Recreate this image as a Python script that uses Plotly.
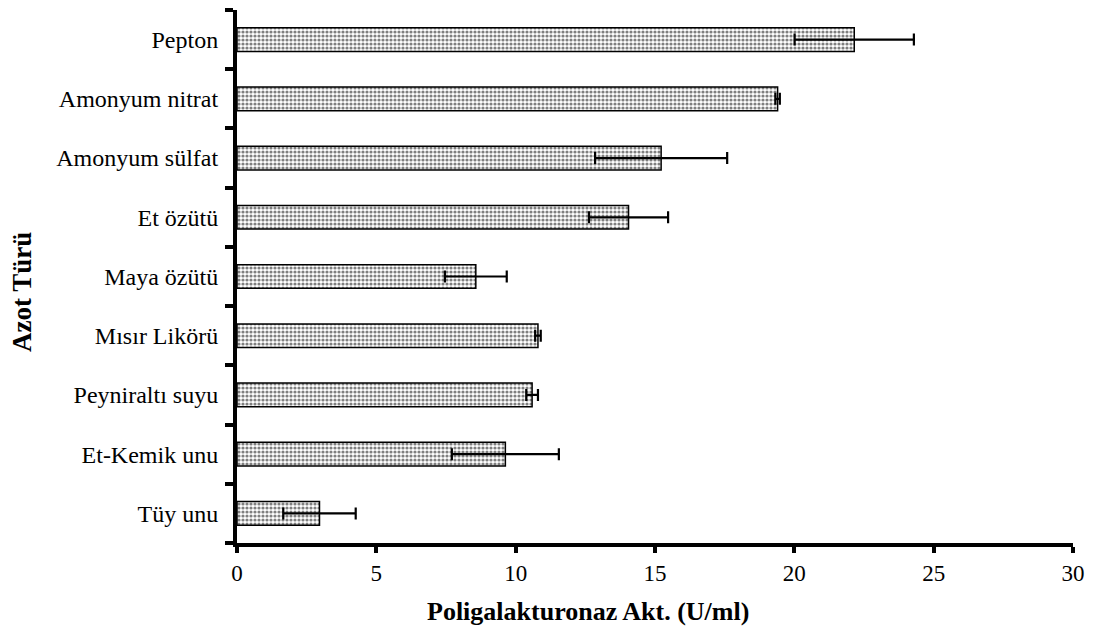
import plotly.graph_objects as go

# Nitrogen sources (top to bottom) and polygalacturonase activity (U/ml)
categories = ["Pepton", "Amonyum nitrat", "Amonyum sülfat", "Et özütü", "Maya özütü",
              "Mısır Likörü", "Peyniraltı suyu", "Et-Kemik unu", "Tüy unu"]
activity = [22.15, 19.40, 15.22, 14.05, 8.57, 10.80, 10.59, 9.63, 2.96]
std_err = [2.14, 0.08, 2.37, 1.42, 1.11, 0.10, 0.21, 1.92, 1.30]
x_ticks = [0, 5, 10, 15, 20, 25, 30]

FONT = "Liberation Serif, Times New Roman, serif"

fig = go.Figure()
fig.add_trace(go.Bar(
    y=categories,
    x=activity,
    orientation="h",
    width=0.4,
    marker=dict(
        color="white",
        line=dict(color="black", width=1.5),
        pattern=dict(shape=".", size=4, solidity=0.5, fgcolor="black", bgcolor="white"),
    ),
    error_x=dict(type="data", array=std_err, visible=True, color="black", thickness=2.2, width=6),
))

fig.update_layout(
    width=1097,
    height=639,
    margin=dict(l=237, r=24, t=10, b=96),
    plot_bgcolor="white",
    paper_bgcolor="white",
    showlegend=False,
    font=dict(family=FONT, size=24, color="black"),
    xaxis=dict(
        range=[0, 30],
        tickvals=x_ticks,
        ticktext=[str(v) for v in x_ticks],
        showgrid=False,
        zeroline=False,
        showline=True,
        linecolor="black",
        linewidth=4,
        ticks="outside",
        ticklen=6,
        tickwidth=4,
        tickcolor="black",
        tickfont=dict(family=FONT, size=23, color="black"),
    ),
    yaxis=dict(
        type="category",
        categoryorder="array",
        categoryarray=categories[::-1],
        range=[-0.5, len(categories) - 0.5],
        tickson="boundaries",
        showgrid=False,
        zeroline=False,
        showline=True,
        linecolor="black",
        linewidth=4,
        ticks="outside",
        ticklen=8,
        tickwidth=4,
        tickcolor="black",
        tickfont=dict(family=FONT, size=24, color="black"),
        ticklabelstandoff=10,
    ),
    annotations=[
        dict(text="<b>Poligalakturonaz Akt. (U/ml)</b>", xref="paper", yref="paper",
             x=(588 - 237) / (1073 - 237), y=-(611 - 543) / (543 - 10),
             xanchor="center", yanchor="middle", showarrow=False,
             font=dict(family=FONT, size=26, color="black")),
        dict(text="<b>Azot Türü</b>", xref="paper", yref="paper",
             x=-(237 - 22) / (1073 - 237), y=(543 - 292) / (543 - 10), textangle=-90,
             xanchor="center", yanchor="middle", showarrow=False,
             font=dict(family=FONT, size=27, color="black")),
    ],
)

fig.write_html("out.html")
